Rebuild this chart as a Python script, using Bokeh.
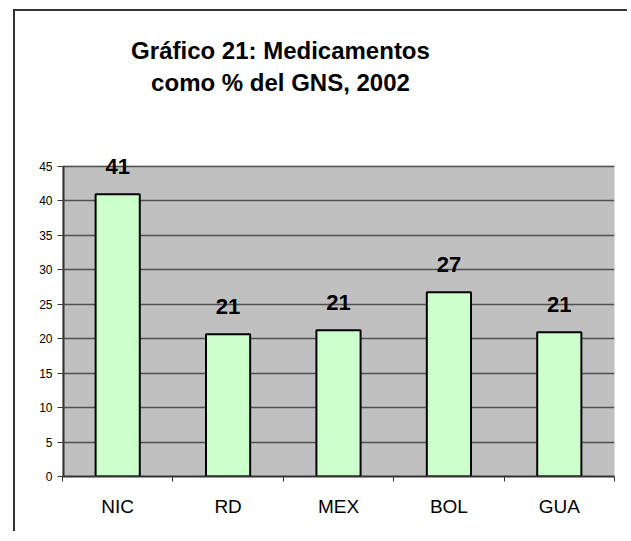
from bokeh.plotting import figure
from bokeh.models import (Range1d, FixedTicker, ColumnDataSource, LabelSet, Label, BoxAnnotation)
from bokeh.core.properties import value
from bokeh.embed import file_html
from bokeh.resources import INLINE

categories = ["NIC", "RD", "MEX", "BOL", "GUA"]
values = [40.9, 20.6, 21.2, 26.7, 20.9]
value_labels = ["41", "21", "21", "27", "21"]
y_ticks = [0, 5, 10, 15, 20, 25, 30, 35, 40, 45]
title_lines = ["Gráfico 21: Medicamentos", "como % del GNS, 2002"]

FONT = "Liberation Sans"
n = len(categories)
centres = [i + 0.5 for i in range(n)]
y_axis_max = y_ticks[-1]

# layout: frame extends above the grey plot area so labels/title are not clipped
W, H = 614, 522
FRAME_H = 455
AREA_H = 310.5
y_view_max = y_axis_max * FRAME_H / AREA_H

p = figure(width=W, height=H, output_backend="svg", toolbar_location=None,
           x_range=Range1d(0, n), y_range=Range1d(0, y_view_max),
           min_border_left=47, min_border_right=W - 47 - 552, min_border_top=10,
           min_border_bottom=H - 10 - FRAME_H)
p.styles = {"box-shadow": "-2px -2px 0px 0px #333333",
            "margin-left": "15px", "margin-top": "11px"}

p.background_fill_color = "white"
p.border_fill_color = "white"
p.outline_line_color = None

# grey plot area
p.add_layout(BoxAnnotation(left=0, right=n, bottom=0, top=y_axis_max,
                           fill_color="#C0C0C0", fill_alpha=1.0,
                           line_color="#808080", line_width=1, level="image"))

# grid
p.xgrid.visible = False
p.ygrid.ticker = FixedTicker(ticks=y_ticks)
p.ygrid.grid_line_color = "#505050"
p.ygrid.grid_line_width = 1.5

# y axis
yax = p.yaxis[0]
yax.ticker = FixedTicker(ticks=y_ticks)
yax.axis_line_color = None
yax.major_tick_line_color = "#333333"
yax.major_tick_out = 5
yax.major_tick_in = 0
yax.minor_tick_line_color = None
yax.major_label_text_font = FONT
yax.major_label_text_font_size = "12px"
yax.major_label_text_color = "black"
yax.major_label_standoff = 5
# visible y-axis line only over the plot area
p.segment(x0=[0], y0=[0], x1=[0], y1=[y_axis_max], line_color="#333333", line_width=4)

# x axis: labels at category centres, ticks at category boundaries
xax = p.xaxis[0]
xax.ticker = FixedTicker(ticks=centres, minor_ticks=list(range(n + 1)))
xax.major_label_overrides = {c: cat for c, cat in zip(centres, categories)}
xax.major_tick_line_color = None
xax.minor_tick_line_color = "#333333"
xax.minor_tick_out = 5
xax.minor_tick_in = 0
xax.axis_line_color = "#333333"
xax.axis_line_width = 2
xax.major_label_text_font = FONT
xax.major_label_text_font_size = "19px"
xax.major_label_text_color = "black"
xax.major_label_standoff = 13

src = ColumnDataSource(dict(x=centres, cat=categories, val=values, lab=value_labels))
p.vbar(x="x", top="val", width=0.4, source=src, fill_color="#CCFFCC",
       line_color="black", line_width=2)

labels = LabelSet(x="x", y="val", text="lab", source=src, y_offset=20,
                  text_align="center", text_baseline="alphabetic",
                  text_font=value(FONT), text_font_size=value("22px"),
                  text_font_style=value("bold"), text_color=value("black"))
p.add_layout(labels)

for i, line in enumerate(title_lines):
    p.add_layout(Label(x=218, y=426 - 32 * i, x_units="screen", y_units="screen",
                       text=line, text_align="center", text_baseline="alphabetic",
                       text_font=FONT, text_font_size="24px", text_font_style="bold",
                       text_color="black"))

open("out.html", "w").write(file_html(p, INLINE))
